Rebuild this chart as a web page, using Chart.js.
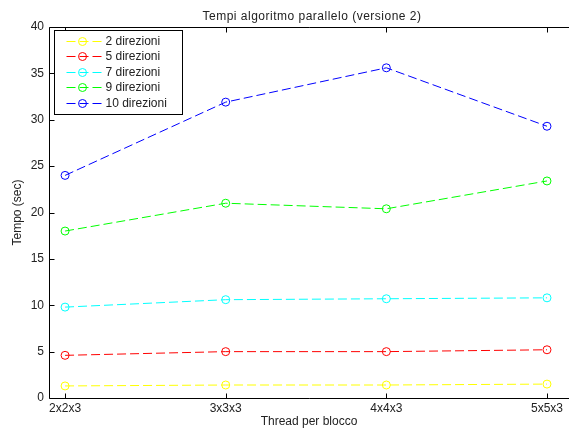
<!DOCTYPE html>
<html><head><meta charset="utf-8">
<script src="https://cdn.jsdelivr.net/npm/chart.js@4/dist/chart.umd.min.js"></script>
<style>html,body{margin:0;padding:0;background:#fff}#wrap{width:569px;height:430px}</style>
</head><body><div id="wrap"><canvas id="c" width="569" height="430"></canvas></div>
<script>
const categories = ["2x2x3","3x3x3","4x4x3","5x5x3"];
const seriesLabels = ["2 direzioni","5 direzioni","7 direzioni","9 direzioni","10 direzioni"];
const dir2  = [1.3, 1.4, 1.4, 1.5];
const dir5  = [4.6, 5.0, 5.0, 5.2];
const dir7  = [9.8, 10.6, 10.7, 10.8];
const dir9  = [18.0, 21.0, 20.4, 23.4];
const dir10 = [24.0, 31.9, 35.6, 29.3];
const colors = ["#ffff00","#ff0000","#00ffff","#00ff00","#0000ff"];
const yTicks = [0,5,10,15,20,25,30,35,40];
const titleText = "Tempi algoritmo parallelo (versione 2)";
const FONT = "'Liberation Sans', Arial, sans-serif";

const allSeries = [dir2, dir5, dir7, dir9, dir10];
const datasets = allSeries.map((s, i) => ({
  label: seriesLabels[i],
  data: s.map((v, j) => ({x: j + 1, y: v})),
  borderColor: colors[i],
  backgroundColor: 'rgba(0,0,0,0)',
  borderWidth: 1,
  borderDash: [9, 4],
  pointStyle: 'circle',
  pointRadius: 4,
  pointBorderWidth: 1,
  pointBorderColor: colors[i],
  pointBackgroundColor: 'rgba(0,0,0,0)',
  tension: 0,
  clip: false
}));

const framePlugin = {
  id: 'frame',
  afterDatasetsDraw(chart) {
    const ctx = chart.ctx, a = chart.chartArea;
    const xs = chart.scales.x, ys = chart.scales.y;
    ctx.save();
    ctx.strokeStyle = '#000';
    ctx.lineWidth = 1;
    ctx.setLineDash([]);
    ctx.beginPath();
    const L = Math.round(a.left) + 0.5, R = chart.width, T = Math.round(a.top) + 0.5, B = Math.round(a.bottom) + 0.5;
    ctx.moveTo(R, T); ctx.lineTo(L, T); ctx.lineTo(L, B); ctx.lineTo(R, B);
    const tl = 5;
    xs.ticks.forEach(t => {
      const px = Math.round(xs.getPixelForValue(t.value)) + 0.5;
      ctx.moveTo(px, B); ctx.lineTo(px, B - tl);
      ctx.moveTo(px, T); ctx.lineTo(px, T + tl);
    });
    ys.ticks.forEach(t => {
      const py = Math.round(ys.getPixelForValue(t.value)) + 0.5;
      ctx.moveTo(L, py); ctx.lineTo(L + tl, py);
    });
    ctx.stroke();

    // title (centred over the full axes, which extend past the right edge)
    ctx.fillStyle = '#222';
    ctx.font = '12px ' + FONT;
    try { ctx.letterSpacing = '0.5px'; } catch (e) {}
    ctx.textAlign = 'center';
    ctx.textBaseline = 'alphabetic';
    ctx.fillText(titleText, 312, 19.5);
    try { ctx.letterSpacing = '0px'; } catch (e) {}

    // legend box
    const bx = Math.round(a.left) + 5.5, by = Math.round(a.top) + 3.5, bw = 128, bh = 84;
    ctx.fillStyle = '#fff';
    ctx.fillRect(bx, by, bw, bh);
    ctx.strokeStyle = '#000';
    ctx.strokeRect(bx, by, bw, bh);
    ctx.font = '12px ' + FONT;
    ctx.textBaseline = 'middle';
    ctx.textAlign = 'left';
    chart.data.datasets.forEach((ds, i) => {
      const yy = Math.round(by + 10 + i * 15.5) + 0.5;
      ctx.strokeStyle = ds.borderColor;
      ctx.setLineDash([9, 4]);
      ctx.beginPath();
      ctx.moveTo(bx + 12, yy); ctx.lineTo(bx + 48, yy);
      ctx.stroke();
      ctx.setLineDash([]);
      ctx.beginPath();
      ctx.arc(bx + 28, yy, 4, 0, Math.PI * 2);
      ctx.stroke();
      ctx.fillStyle = '#222';
      ctx.fillText(ds.label, bx + 51, yy);
    });
    ctx.restore();
  }
};

new Chart(document.getElementById('c'), {
  type: 'line',
  data: { datasets },
  options: {
    responsive: false,
    animation: false,
    events: [],
    layout: { autoPadding: false, padding: { left: 0, right: 0, top: 27, bottom: 0 } },
    plugins: {
      legend: { display: false },
      tooltip: { enabled: false },
      title: { display: false }
    },
    scales: {
      x: {
        type: 'linear',
        min: 0.9, max: 4.137,
        grid: { display: false, drawTicks: false },
        border: { display: false },
        ticks: {
          stepSize: 1,
          includeBounds: false,
          autoSkip: false,
          maxRotation: 0,
          padding: 3,
          color: '#222',
          font: { family: FONT, size: 12 },
          callback: v => categories[Math.round(v) - 1] || ''
        },
        title: {
          display: true, text: 'Thread per blocco', color: '#222',
          font: { family: FONT, size: 12 }, padding: { top: 2, bottom: 1 }
        },
        afterFit: s => { s.height = 32; s.paddingLeft = 0; s.paddingRight = 0; }
      },
      y: {
        min: 0, max: 40,
        grid: { display: false, drawTicks: false },
        border: { display: false },
        afterBuildTicks: s => { s.ticks = yTicks.map(v => ({ value: v })); },
        ticks: {
          padding: 5,
          color: '#222',
          font: { family: FONT, size: 12 }
        },
        title: {
          display: true, text: 'Tempo (sec)', color: '#222',
          font: { family: FONT, size: 12 }, padding: { top: 10, bottom: 0 }
        },
        afterFit: s => { s.width = 49; s.paddingTop = 0; s.paddingBottom = 0; }
      }
    }
  },
  plugins: [framePlugin]
});
</script></body></html>
